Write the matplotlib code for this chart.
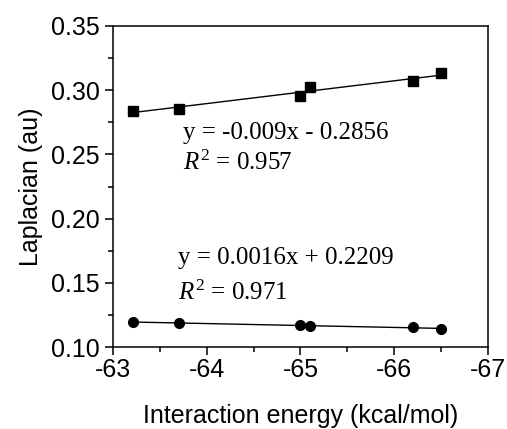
import numpy as np
import matplotlib.pyplot as plt
from matplotlib.ticker import MultipleLocator

plt.switch_backend('Agg')

plt.rcParams['font.family'] = 'Liberation Sans'
plt.rcParams['mathtext.fontset'] = 'custom'
plt.rcParams['mathtext.rm'] = 'Liberation Serif'
plt.rcParams['mathtext.it'] = 'Liberation Serif:italic'

# Data
energy_sq = [-63.21, -63.70, -65.00, -65.10, -66.20, -66.50]
lap_sq = [0.2838, 0.2856, 0.2955, 0.3027, 0.3069, 0.3136]
energy_ci = [-63.21, -63.70, -65.00, -65.10, -66.20, -66.50]
lap_ci = [0.1195, 0.1187, 0.1171, 0.1161, 0.1153, 0.1143]

eq_top = ["y = -0.009x - 0.2856", r"$R^2$ = 0.957"]
eq_bot = ["y = 0.0016x + 0.2209", r"$R^2$ = 0.971"]

fig = plt.figure(figsize=(5.07, 4.29), dpi=100)
ax = fig.add_axes([0.2229, 0.1911, 0.7396, 0.7483])

for xs, ys, mk in [(energy_sq, lap_sq, 's'), (energy_ci, lap_ci, 'o')]:
    xs = np.array(xs)
    k, b = np.polyfit(xs, ys, 1)
    xl = np.array([xs.max(), xs.min()])
    ax.plot(xl, k * xl + b, color='black', lw=1.0)
    ax.plot(xs, ys, linestyle='none', marker=mk, color='black', markersize=7)

ax.set_xlim(-63, -67)
ax.set_ylim(0.10, 0.35)
ax.xaxis.set_major_locator(MultipleLocator(1))
ax.xaxis.set_minor_locator(MultipleLocator(0.5))
ax.yaxis.set_major_locator(MultipleLocator(0.05))
ax.yaxis.set_minor_locator(MultipleLocator(0.025))
ax.set_xticklabels([f"{int(v)}" for v in ax.get_xticks()])
ax.yaxis.set_major_formatter(plt.FormatStrFormatter('%.2f'))

ax.tick_params(which='both', direction='out', top=False, right=False, labelsize=18, width=1.1)
ax.tick_params(which='major', length=6)
ax.tick_params(which='minor', length=3.5)
ax.tick_params(axis='x', pad=2)
for s in ax.spines.values():
    s.set_linewidth(1.1)

ax.set_xlabel("Interaction energy (kcal/mol)", fontsize=18, labelpad=16)
ax.set_ylabel("Laplacian (au)", fontsize=18, labelpad=6)

tf = dict(fontsize=18, family='Liberation Serif', va='center', ha='left')
ax.text(-63.75, 0.2667, eq_top[0], **tf)
ax.text(-63.75, 0.2433, eq_top[1], **tf)
ax.text(-63.69, 0.1693, eq_bot[0], **tf)
ax.text(-63.69, 0.1421, eq_bot[1], **tf)

fig.savefig("out.png", dpi=100)
